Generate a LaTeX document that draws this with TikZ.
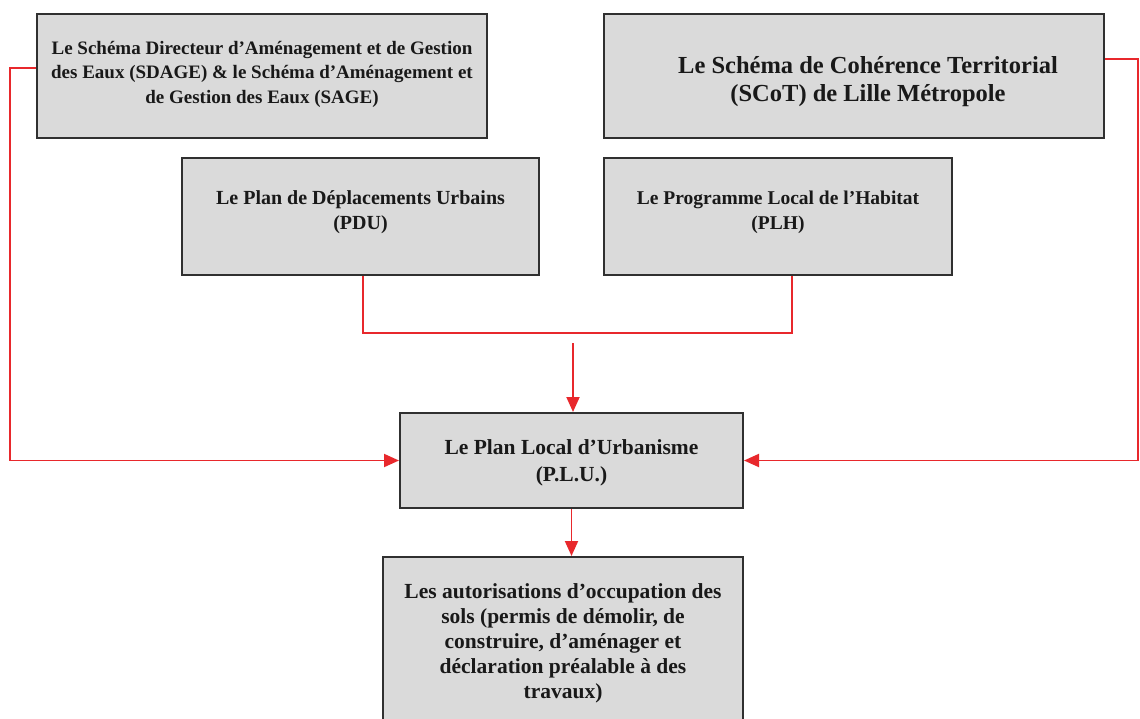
\documentclass[tikz,border=0pt]{standalone}
\usepackage{fontspec}
\setmainfont{Liberation Serif}
\usetikzlibrary{arrows.meta}
\definecolor{boxfill}{HTML}{DADADA}
\definecolor{boxline}{HTML}{303030}
\definecolor{linkred}{HTML}{E8282C}
\tikzset{
  box/.style={draw=boxline, fill=boxfill, line width=2pt, inner sep=0pt},
  txt/.style={align=center, font=\bfseries\fontsize{19}{24.5}\selectfont, text=black!90, inner sep=0pt},
  link/.style={draw=linkred, line width=1.9pt},
  arr/.style={link, -{Triangle[length=15pt,width=13pt]}},
}
\begin{document}
\begin{tikzpicture}[x=1pt,y=-1pt]
\clip (0,0) rectangle (1140,718);
\fill[white] (0,0) rectangle (1140,718);
% boxes
\node[box, minimum width=450, minimum height=124] (sdage) at (262,76) {};
\node[txt] (sdaget) at (262,74) {Le Schéma Directeur d’Aménagement et de Gestion\\des Eaux (SDAGE) \& le Schéma d’Aménagement et\\de Gestion des Eaux (SAGE)};
\node[box, minimum width=500, minimum height=124] (scot) at (854,76) {};
\node[txt, font=\bfseries\fontsize{24.5}{28}\selectfont] (scott) at (868,82) {Le Schéma de Cohérence Territorial\\(SCoT) de Lille Métropole};
\node[box, minimum width=357, minimum height=117] (pdu) at (360.5,216.5) {};
\node[txt, font=\bfseries\fontsize{20}{25}\selectfont] (pdut) at (360.5,212) {Le Plan de Déplacements Urbains\\(PDU)};
\node[box, minimum width=348, minimum height=117] (plh) at (778,216.5) {};
\node[txt, font=\bfseries\fontsize{19.5}{25}\selectfont] (plht) at (778,212) {Le Programme Local de l’Habitat\\(PLH)};
\node[box, minimum width=343, minimum height=95] (plu) at (571.5,460.5) {};
\node[txt, font=\bfseries\fontsize{21.5}{27}\selectfont] (plut) at (571.5,463) {Le Plan Local d’Urbanisme\\(P.L.U.)};
\node[box, minimum width=360, minimum height=180] (auto) at (563,647) {};
\node[txt, font=\bfseries\fontsize{21.5}{25}\selectfont] (autot) at (563,643) {Les autorisations d’occupation des\\sols (permis de démolir, de\\construire, d’aménager et\\déclaration préalable à des\\travaux)};
% connectors
\coordinate (lc) at (10,68);
\coordinate (rc) at (1138,59);
\coordinate (jl) at (363,333);
\coordinate (jr) at (792,333);
\coordinate (as) at (573,343);
\draw[arr] (sdage.west |- lc) -- (lc) |- (plu.west);
\draw[arr] (scot.east |- rc) -- (rc) |- (plu.east);
\draw[link] (pdu.south -| jl) -- (jl) -- (jr) -- (plh.south -| jr);
\draw[arr] (as) -- (plu.north -| as);
\draw[arr] (plu.south) -- (plu.south |- auto.north);
\end{tikzpicture}
\end{document}
